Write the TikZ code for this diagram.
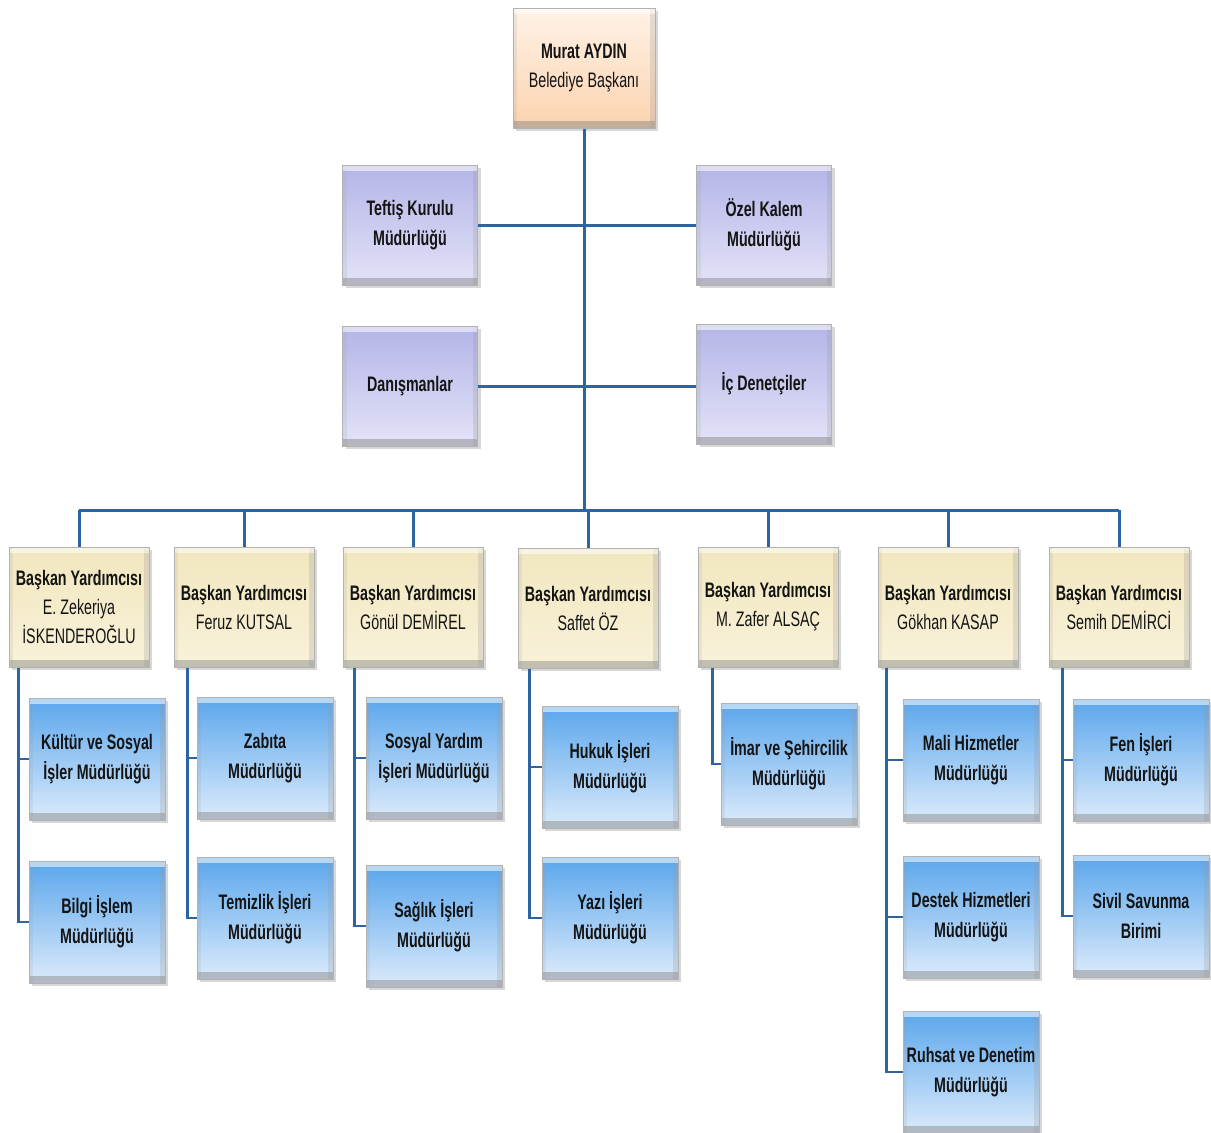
\documentclass[tikz,border=0pt]{standalone}
\usepackage{fontspec}
\setmainfont{Liberation Sans}[FakeStretch=0.68]
\usetikzlibrary{shadows}
\definecolor{linec}{HTML}{2F64A2}
\definecolor{txt}{HTML}{141414}
\definecolor{bossT}{HTML}{FFF2E8}
\definecolor{bossM}{HTML}{F7B474}
\definecolor{bossB}{HTML}{FBD3AE}
\definecolor{staffT}{HTML}{B4B4E8}
\definecolor{staffB}{HTML}{E3E3F8}
\definecolor{depT}{HTML}{F1E6BE}
\definecolor{depB}{HTML}{F9F2DA}
\definecolor{unitT}{HTML}{5AA6EC}
\definecolor{unitB}{HTML}{DCEBFB}
\tikzset{
  box/.style={rectangle, minimum width=#1, inner sep=0pt, align=center, text=txt,
    font=\fontsize{21}{29}\selectfont, draw=gray!60, line width=1pt,
    drop shadow={shadow xshift=3pt, shadow yshift=-3pt, fill=gray!70, opacity=.45},
    path picture={
      \fill[black!50,opacity=.45] (path picture bounding box.south west) rectangle ([yshift=7pt]path picture bounding box.south east);
      \fill[black!40,opacity=.25] (path picture bounding box.south east) rectangle ([xshift=-5pt]path picture bounding box.north east);
      \fill[black!40,opacity=.15] (path picture bounding box.south west) rectangle ([xshift=4pt]path picture bounding box.north west);
      \fill[white,opacity=.55] (path picture bounding box.north west) rectangle ([yshift=-6pt]path picture bounding box.north east);
    }},
  boss/.style={box=142pt, minimum height=120pt, top color=bossT, middle color=bossM, bottom color=bossB},
  staff/.style={box=135pt, minimum height=120pt, top color=staffT, bottom color=staffB, font=\fontsize{21}{30}\selectfont\bfseries},
  deputy/.style={box=140pt, minimum height=120pt, top color=depT, bottom color=depB},
  unit/.style={box=136pt, minimum height=122pt, top color=unitT, bottom color=unitB, font=\fontsize{21}{30}\selectfont\bfseries},
  conn/.style={draw=linec, line width=3pt},
  branch/.style={draw=linec, line width=2.6pt}
}
\begin{document}
\begin{tikzpicture}[x=1pt,y=-1pt]
\useasboundingbox (0,0) rectangle (1211,1133);
% top
\node[boss] (top) at (584,68) {\textbf{Murat AYDIN}\\Belediye Başkanı};
\node[staff] (teftis) at (410,225) {Teftiş Kurulu\\Müdürlüğü};
\node[staff] (ozel) at (764,225) {Özel Kalem\\Müdürlüğü};
\node[staff] (danis) at (410,386) {Danışmanlar};
\node[staff] (icden) at (764,384) {İç Denetçiler};
% deputies
\node[deputy] (d1) at (79,607) {\textbf{Başkan Yardımcısı}\\E. Zekeriya\\İSKENDEROĞLU};
\node[deputy] (d2) at (244,607) {\textbf{Başkan Yardımcısı}\\Feruz KUTSAL};
\node[deputy] (d3) at (413,607) {\textbf{Başkan Yardımcısı}\\Gönül DEMİREL};
\node[deputy] (d4) at (588,608) {\textbf{Başkan Yardımcısı}\\Saffet ÖZ};
\node[deputy] (d5) at (768,607) {\textbf{Başkan Yardımcısı}\\M. Zafer ALSAÇ};
\node[deputy] (d6) at (948,607) {\textbf{Başkan Yardımcısı}\\Gökhan KASAP};
\node[deputy] (d7) at (1119,607) {\textbf{Başkan Yardımcısı}\\Semih DEMİRCİ};
% units
\node[unit] (u11) at (97,759) {Kültür ve Sosyal\\İşler Müdürlüğü};
\node[unit] (u12) at (97,922) {Bilgi İşlem\\Müdürlüğü};
\node[unit] (u21) at (265,758) {Zabıta\\Müdürlüğü};
\node[unit] (u22) at (265,918) {Temizlik İşleri\\Müdürlüğü};
\node[unit] (u31) at (434,758) {Sosyal Yardım\\İşleri Müdürlüğü};
\node[unit] (u32) at (434,926) {Sağlık İşleri\\Müdürlüğü};
\node[unit] (u41) at (610,767) {Hukuk İşleri\\Müdürlüğü};
\node[unit] (u42) at (610,918) {Yazı İşleri\\Müdürlüğü};
\node[unit] (u51) at (789,764) {İmar ve Şehircilik\\Müdürlüğü};
\node[unit] (u61) at (971,760) {Mali Hizmetler\\Müdürlüğü};
\node[unit] (u62) at (971,917) {Destek Hizmetleri\\Müdürlüğü};
\node[unit] (u63) at (971,1072) {Ruhsat ve Denetim\\Müdürlüğü};
\node[unit] (u71) at (1141,760) {Fen İşleri\\Müdürlüğü};
\node[unit] (u72) at (1141,916) {Sivil Savunma\\Birimi};
% connectors
\coordinate (bus) at (584,510);
\draw[conn] (top.south) -- (bus);
\draw[conn] (teftis.east) -- (ozel.west);
\draw[conn] (danis.east) -- (danis.east -| icden.west);
\draw[conn] (d1.north |- bus) -- (d7.north |- bus);
\foreach \d in {d1,d2,d3,d4,d5,d6,d7} { \draw[conn] (\d.north |- bus) -- (\d.north); }
\draw[branch] ([xshift=10pt]d1.south west) |- (u11.west);
\draw[branch] ([xshift=10pt]d1.south west) |- (u12.west);
\draw[branch] ([xshift=14pt]d2.south west) |- (u21.west);
\draw[branch] ([xshift=14pt]d2.south west) |- (u22.west);
\draw[branch] ([xshift=12pt]d3.south west) |- (u31.west);
\draw[branch] ([xshift=12pt]d3.south west) |- (u32.west);
\draw[branch] ([xshift=12pt]d4.south west) |- (u41.west);
\draw[branch] ([xshift=12pt]d4.south west) |- (u42.west);
\draw[branch] ([xshift=15pt]d5.south west) |- (u51.west);
\draw[branch] ([xshift=9pt]d6.south west) |- (u61.west);
\draw[branch] ([xshift=9pt]d6.south west) |- (u62.west);
\draw[branch] ([xshift=9pt]d6.south west) |- (u63.west);
\draw[branch] ([xshift=14pt]d7.south west) |- (u71.west);
\draw[branch] ([xshift=14pt]d7.south west) |- (u72.west);
\end{tikzpicture}
\end{document}
